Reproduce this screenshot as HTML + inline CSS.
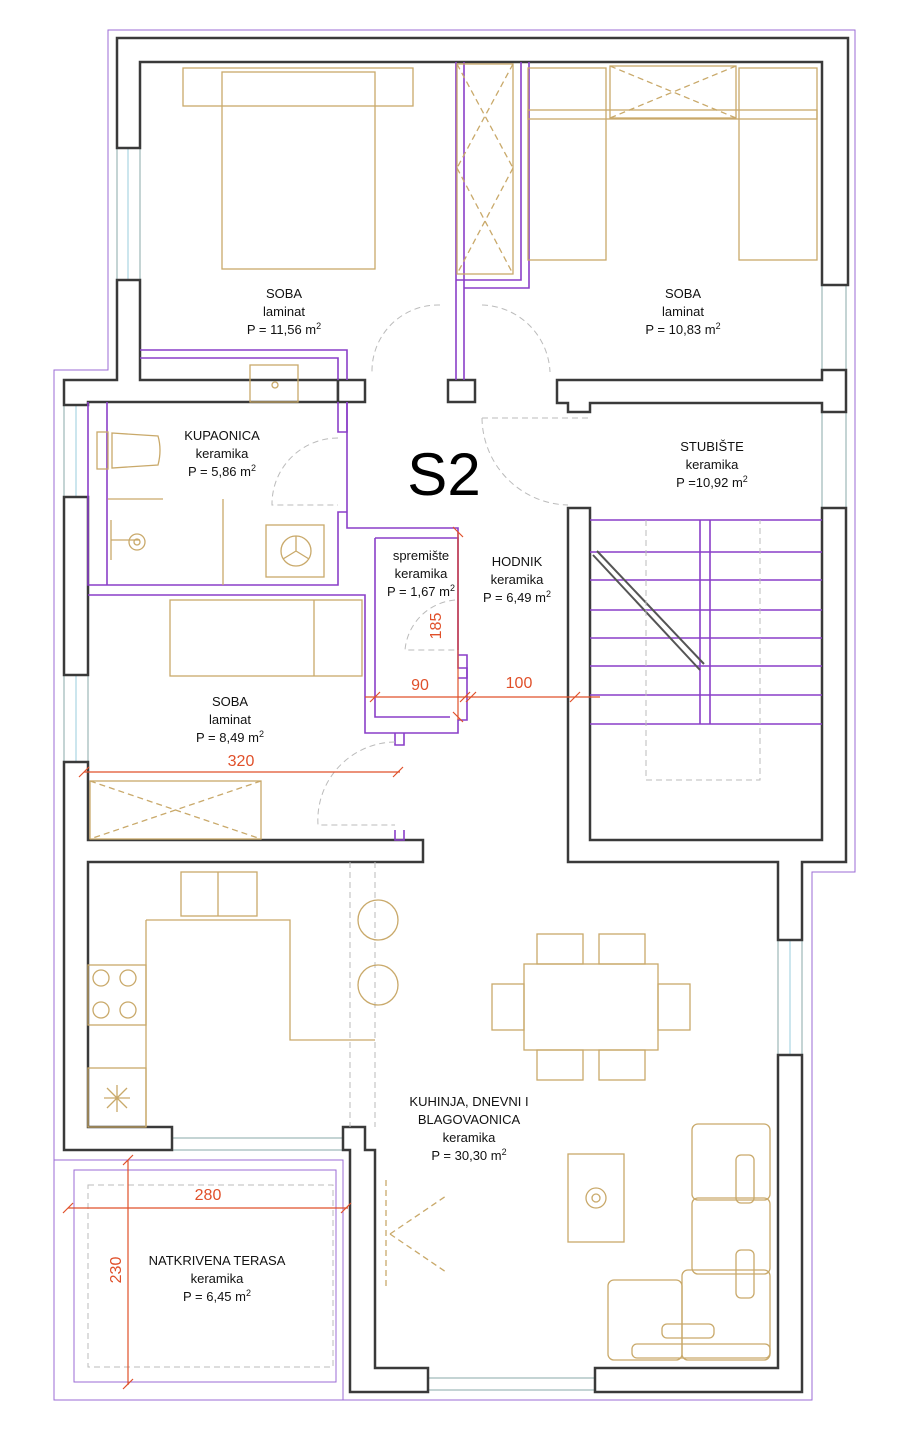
<!DOCTYPE html>
<html><head><meta charset="utf-8"><style>
html,body{margin:0;padding:0;background:#fff;}
svg{display:block;}
text{font-family:"Liberation Sans",sans-serif;font-size:13px;fill:#111;text-anchor:middle;}
.w{fill:#fff;stroke:#3a3a3a;stroke-width:2.5;}
.p{fill:none;stroke:#8a3fc8;stroke-width:1.6;}
.g{fill:none;stroke:#c9a96a;stroke-width:1.3;}
.d{fill:none;stroke:#bbb;stroke-width:1;stroke-dasharray:6 4;}
.r{stroke:#e0502a;stroke-width:1.2;fill:none;}
.rt{fill:#e0502a;font-size:16px;}
.win{fill:#fff;stroke:#8aa;stroke-width:1;}
</style></head><body>
<svg width="902" height="1440" viewBox="0 0 902 1440" xmlns="http://www.w3.org/2000/svg">
<!-- outer purple boundary -->
<path class="p" stroke-width="1" d="M108,30 H855 V872 H812 V1400 H54 V370 H108 Z" style="stroke:#9b6bd6;stroke-width:1"/>
<path class="p" d="M54,1160 H343 V1400" style="stroke:#9b6bd6;stroke-width:1"/>
<rect x="74" y="1170" width="262" height="212" class="p" style="stroke:#9b6bd6;stroke-width:1"/>
<rect x="88" y="1185" width="245" height="182" class="d"/>

<!-- windows -->
<rect class="win" x="117" y="148" width="23" height="132"/>
<rect class="win" x="64" y="405" width="24" height="92"/>
<rect class="win" x="64" y="675" width="24" height="87"/>
<rect class="win" x="822" y="285" width="24" height="85"/>
<rect class="win" x="822" y="412" width="24" height="96"/>
<rect class="win" x="778" y="940" width="24" height="115"/>
<rect class="win" x="172" y="1138" width="171" height="12"/>
<rect class="win" x="428" y="1378" width="167" height="12"/>
<line x1="128" y1="148" x2="128" y2="280" stroke="#9cd" />
<line x1="76" y1="405" x2="76" y2="497" stroke="#9cd"/>
<line x1="76" y1="675" x2="76" y2="762" stroke="#9cd"/>
<line x1="790" y1="940" x2="790" y2="1055" stroke="#9cd"/>

<!-- walls -->
<path class="w" d="M117,38 H848 V285 H822 V62 H140 V148 H117 Z"/>
<path class="w" d="M117,280 H140 V380 H338 V402 H88 V405 H64 V380 H117 Z"/>
<rect class="w" x="338" y="380" width="27" height="22"/>
<rect class="w" x="448" y="380" width="27" height="22"/>
<path class="w" d="M557,380 H822 V370 H846 V412 H822 V403 H590 V412 H568 V403 H557 Z"/>
<path class="w" d="M568,508 H590 V840 H822 V508 H846 V862 H802 V940 H778 V862 H568 Z"/>
<path class="w" d="M778,1055 H802 V1392 H595 V1368 H778 Z"/>
<path class="w" d="M343,1127 H365 V1150 H375 V1368 H428 V1392 H350 V1150 H343 Z"/>
<rect class="w" x="64" y="497" width="24" height="178"/>
<path class="w" d="M64,762 H88 V840 H423 V862 H88 V1127 H172 V1150 H64 Z"/>

<!-- purple internal walls -->
<path class="p" d="M140,350 H347 V380 M140,358 H338 V380"/>
<path class="p" d="M347,402 V432 H338 V402"/>
<path class="p" d="M456,62 V380 M464,62 V380 M456,280 H521 V62 M464,288 H529 V62"/>
<path class="p" d="M88,402 V585 H338 V512 H347 V528 H458 V668 H467 V678 H458 M347,512 V402"/>
<path class="p" d="M107,402 V585"/>
<path class="p" d="M88,595 H365 V733 H458 V720 H467 V655 H458 M458,650 V540 M375,538 H458 V590 M375,538 V717 H450"/>
<path class="p" d="M395,733 V745 H404 V733 M395,830 V840 H404 V830"/>
<path class="p" d="M590,520 H822 M590,552 H822 M590,580 H822 M590,610 H822 M590,638 H822 M590,666 H822 M590,695 H822 M590,724 H822"/>
<path class="p" d="M700,520 V724 M710,520 V724"/>
<path d="M593,555 L700,670 M597,551 L704,664" stroke="#555" stroke-width="2"/>
<path class="d" d="M646,520 V780 H760 V520"/>

<!-- doors -->
<path class="d" d="M440,305 A66,66 0 0 0 372,372 M482,305 A70,70 0 0 1 550,372"/>
<path class="d" d="M338,438 A66,66 0 0 0 272,505 H338"/>
<path class="d" d="M482,418 H590 M482,418 A88,88 0 0 0 568,505"/>
<path class="d" d="M455,600 A55,55 0 0 0 405,650 H455"/>
<path class="d" d="M395,742 A78,78 0 0 0 318,825 H395"/>
<path class="d" d="M350,862 V1127 M375,862 V1127"/>

<!-- furniture -->
<rect class="g" x="183" y="68" width="230" height="38"/>
<rect class="g" x="222" y="72" width="153" height="197"/>
<rect class="g" x="528" y="68" width="78" height="192"/>
<rect class="g" x="739" y="68" width="78" height="192"/>
<rect class="g" x="528" y="110" width="289" height="9"/>
<rect class="g" x="610" y="66" width="126" height="52"/>
<path class="g" d="M610,66 L736,118 M736,66 L610,118" stroke-dasharray="6 4"/>
<rect class="g" x="457" y="64" width="56" height="210"/>
<path class="g" d="M457,64 L513,168 M513,64 L457,168 M457,168 L513,274 M513,168 L457,274" stroke-dasharray="6 4"/>
<rect class="g" x="250" y="365" width="48" height="37"/>
<circle class="g" cx="275" cy="385" r="3"/>
<rect class="g" x="97" y="432" width="11" height="37"/>
<path class="g" d="M112,433 L158,436 Q162,450 158,465 L112,468 Z"/>
<path class="g" d="M108,499 H163 M223,499 V585"/>
<path class="g" d="M111,520 V560 M111,540 H140"/>
<circle class="g" cx="137" cy="542" r="8"/><circle class="g" cx="137" cy="542" r="3"/>
<rect class="g" x="266" y="525" width="58" height="52"/>
<circle class="g" cx="296" cy="551" r="15"/>
<path class="g" d="M296,551 V536 M296,551 L283,559 M296,551 L309,559"/>
<rect class="g" x="170" y="600" width="192" height="76"/>
<path class="g" d="M314,600 V676"/>
<rect class="g" x="90" y="781" width="171" height="58"/>
<path class="g" d="M90,781 L261,839 M261,781 L90,839" stroke-dasharray="6 4"/>
<rect class="g" x="181" y="872" width="76" height="44"/>
<path class="g" d="M218,872 V916"/>
<path class="g" d="M146,920 H290 V1040 H375 M146,920 V1127"/>
<rect class="g" x="88" y="965" width="58" height="60"/>
<circle class="g" cx="101" cy="978" r="8"/><circle class="g" cx="128" cy="978" r="8"/>
<circle class="g" cx="101" cy="1010" r="8"/><circle class="g" cx="128" cy="1010" r="8"/>
<rect class="g" x="88" y="1068" width="58" height="59"/>
<path class="g" d="M117,1085 V1112 M104,1098 H130 M107,1088 L127,1108 M127,1088 L107,1108"/>
<circle class="g" cx="378" cy="920" r="20"/><circle class="g" cx="378" cy="985" r="20"/>
<rect class="g" x="524" y="964" width="134" height="86"/>
<rect class="g" x="537" y="934" width="46" height="30"/><rect class="g" x="599" y="934" width="46" height="30"/>
<rect class="g" x="537" y="1050" width="46" height="30"/><rect class="g" x="599" y="1050" width="46" height="30"/>
<rect class="g" x="492" y="984" width="32" height="46"/><rect class="g" x="658" y="984" width="32" height="46"/>
<rect class="g" x="568" y="1154" width="56" height="88"/>
<circle class="g" cx="596" cy="1198" r="10"/><circle class="g" cx="596" cy="1198" r="4"/>
<path class="g" d="M386,1180 V1288 M390,1234 L446,1196 M390,1234 L446,1272" stroke-dasharray="6 4"/>
<rect class="g" x="692" y="1124" width="78" height="76" rx="6"/>
<rect class="g" x="692" y="1198" width="78" height="76" rx="6"/>
<rect class="g" x="682" y="1270" width="88" height="90" rx="6"/>
<rect class="g" x="608" y="1280" width="74" height="80" rx="6"/>
<rect class="g" x="632" y="1344" width="138" height="14" rx="5"/>
<rect class="g" x="736" y="1155" width="18" height="48" rx="5"/>
<rect class="g" x="736" y="1250" width="18" height="48" rx="5"/>
<rect class="g" x="662" y="1324" width="52" height="14" rx="5"/>

<!-- dimensions -->
<path class="r" d="M458,532 V720 M365,697 H600 M84,772 H400 M128,1160 V1385 M68,1208 H348"/>
<path class="r" stroke-width="1.8" d="M453,527 l10,10 M453,712 l10,10 M370,702 l10,-10 M460,702 l10,-10 M466,702 l10,-10 M570,702 l10,-10 M79,777 l10,-10 M393,777 l10,-10 M123,1165 l10,-10 M123,1389 l10,-10 M63,1213 l10,-10 M341,1213 l10,-10"/>
<text class="rt" x="420" y="690">90</text>
<text class="rt" x="519" y="688">100</text>
<text class="rt" x="241" y="766">320</text>
<text class="rt" x="208" y="1200">280</text>
<text class="rt" transform="translate(441,626) rotate(-90)">185</text>
<text class="rt" transform="translate(121,1270) rotate(-90)">230</text>

<!-- labels -->
<text x="284" y="298">SOBA</text><text x="284" y="316">laminat</text><text x="284" y="334">P = 11,56 m<tspan font-size="9" dy="-5">2</tspan></text>
<text x="683" y="298">SOBA</text><text x="683" y="316">laminat</text><text x="683" y="334">P = 10,83 m<tspan font-size="9" dy="-5">2</tspan></text>
<text x="222" y="440">KUPAONICA</text><text x="222" y="458">keramika</text><text x="222" y="476">P = 5,86 m<tspan font-size="9" dy="-5">2</tspan></text>
<text x="712" y="451">STUBIŠTE</text><text x="712" y="469">keramika</text><text x="712" y="487">P =10,92 m<tspan font-size="9" dy="-5">2</tspan></text>
<text x="444" y="495" style="font-size:60px;fill:#000">S2</text>
<text x="421" y="560">spremište</text><text x="421" y="578">keramika</text><text x="421" y="596">P = 1,67 m<tspan font-size="9" dy="-5">2</tspan></text>
<text x="517" y="566">HODNIK</text><text x="517" y="584">keramika</text><text x="517" y="602">P = 6,49 m<tspan font-size="9" dy="-5">2</tspan></text>
<text x="230" y="706">SOBA</text><text x="230" y="724">laminat</text><text x="230" y="742">P = 8,49 m<tspan font-size="9" dy="-5">2</tspan></text>
<text x="469" y="1106">KUHINJA, DNEVNI I</text><text x="469" y="1124">BLAGOVAONICA</text><text x="469" y="1142">keramika</text><text x="469" y="1160">P = 30,30 m<tspan font-size="9" dy="-5">2</tspan></text>
<text x="217" y="1265">NATKRIVENA TERASA</text><text x="217" y="1283">keramika</text><text x="217" y="1301">P = 6,45 m<tspan font-size="9" dy="-5">2</tspan></text>
</svg>
</body></html>
